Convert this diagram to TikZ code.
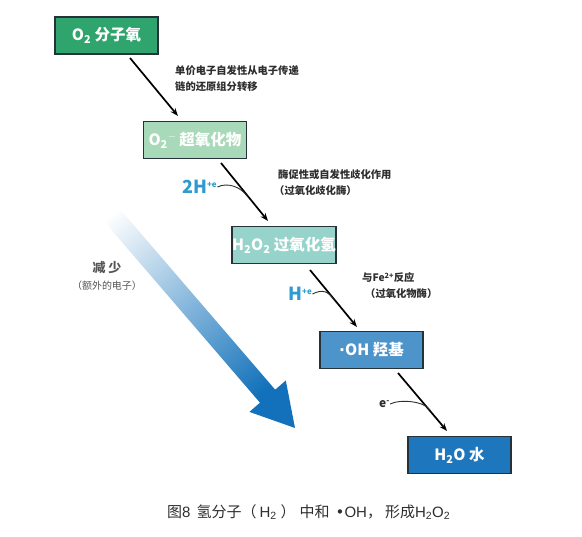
\documentclass[tikz,border=0pt]{standalone}
\usepackage{fontspec}
\setmainfont{Noto Sans CJK SC}
\newfontfamily\capfont{Noto Sans CJK SC}
\newfontfamily\dvfont{DejaVu Sans}
\newfontfamily\latfont{Liberation Sans}
\usetikzlibrary{arrows.meta,calc}
\definecolor{boxA}{HTML}{2FA46C}
\definecolor{boxB}{HTML}{A8D9B8}
\definecolor{boxC}{HTML}{96D3CA}
\definecolor{boxD}{HTML}{4D94CB}
\definecolor{boxE}{HTML}{1E76BC}
\definecolor{edgecol}{HTML}{25323A}
\definecolor{hblue}{HTML}{2F9AD0}
\definecolor{arrowblue}{HTML}{1271BA}
\definecolor{annot}{HTML}{2E2E2E}
\definecolor{graytxt}{HTML}{555555}
\tikzset{
  chembox/.style={draw=edgecol, line width=1.3pt, minimum width=103pt, minimum height=37pt,
    inner sep=0pt, text=white, font=\fontsize{15.5}{17}\selectfont\bfseries},
  annottext/.style={anchor=west, text=annot, font=\fontsize{10.3}{12}\selectfont\bfseries, inner sep=0pt},
  steparrow/.style={line width=1.7pt, -{Stealth[length=8pt,width=6pt]}},
  sidecurve/.style={line width=0.9pt, annot},
  hlabel/.style={text=hblue, font=\fontsize{18}{20}\selectfont\bfseries, inner sep=0pt}
}
\begin{document}
\begin{tikzpicture}[x=1pt,y=-1pt]
\useasboundingbox (0,0) rectangle (582,537);
% big shaded arrow
\shade[top color=white, middle color=arrowblue!50, bottom color=arrowblue, shading angle=41]
  (78.4,191.5) -- (260.0,402.7) -- (249.4,411.9) -- (295,428) -- (285.8,380.5)
  -- (275.2,389.7) -- (93.6,178.5) -- cycle;
% boxes
\node[chembox, fill=boxA] (b1) at (106.5,35.5) {O\textsubscript{2} 分子氧};
\node[chembox, fill=boxB] (b2) at (195,140) {O\textsubscript{2}\textsuperscript{$-$}\,超氧化物};
\node[chembox, fill=boxC] (b3) at (284,245) {H\textsubscript{2}O\textsubscript{2} 过氧化氢};
\node[chembox, fill=boxD] (b4) at (371.5,350) {{\dvfont\bfseries ·}OH 羟基};
\node[chembox, fill=boxE] (b5) at (459.5,455) {H\textsubscript{2}O 水};
% step arrows
\coordinate (s1) at (130,58);  \coordinate (e1) at (178,116);
\coordinate (s2) at (221,163); \coordinate (e2) at (268,221);
\coordinate (s3) at (310,270); \coordinate (e3) at (357,327);
\coordinate (s4) at (398,373); \coordinate (e4) at (447,431);
\draw[steparrow] (s1) -- (e1);
\draw[steparrow] (s2) -- (e2);
\draw[steparrow] (s3) -- (e3);
\draw[steparrow] (s4) -- (e4);
% annotations
\node[annottext] (t1a) at (175,71) {单价电子自发性从电子传递};
\node[annottext] (t1b) at (175,87) {链的还原组分转移};
\node[annottext] (t2a) at (278,175) {酶促性或自发性歧化作用};
\node[annottext] (t2b) at (274,191) {（过氧化歧化酶）};
\node[annottext] (t3a) at (362,278) {与Fe\textsuperscript{2+}反应};
\node[annottext] (t3b) at (365,294) {（过氧化物酶）};
% side labels
\node[hlabel, anchor=west] (h2) at (182,187) {2H\textsuperscript{\fontsize{8}{8}\selectfont +e}};
\node[hlabel, anchor=west] (h1) at (288,294) {H\textsuperscript{\fontsize{8}{8}\selectfont +e}};
\node[anchor=west, inner sep=0pt, text=annot, font=\fontsize{12}{14}\selectfont\bfseries] (el) at (379,404) {e\textsuperscript{-}};
\coordinate (m2) at (247,196);
\coordinate (m3) at (334,300);
\coordinate (m4) at (430,410);
\draw[sidecurve] (h2.east) .. controls ++(10,-5) and ++(-6,-9) .. (m2);
\draw[sidecurve] (h1.east) .. controls ++(10,-5) and ++(-6,-9) .. (m3);
\draw[sidecurve] (el.east) .. controls ++(10,-5) and ++(-6,-9) .. (m4);
% left text
\node[text=graytxt, inner sep=0pt, font=\fontsize{13}{15}\selectfont\bfseries] (dec) at (107,268) {减 少};
\node[text=graytxt, inner sep=0pt, font=\fontsize{10}{12}\selectfont] (dec2) at (107,286) {（额外的电子）};
% caption
\node[text=annot, inner sep=0pt, anchor=west, font=\capfont\fontsize{15}{17}\selectfont] (cap) at (167,512)
  {图{\latfont 8}\hspace{6pt}氢分子（\hspace{3pt}{\latfont H\textsubscript{2}}\hspace{4pt}）\hspace{4pt}中和\hspace{6pt}{\dvfont •}{\latfont OH}，\hspace{3pt}形成{\latfont H\textsubscript{2}O\textsubscript{2}}};
\end{tikzpicture}
\end{document}
